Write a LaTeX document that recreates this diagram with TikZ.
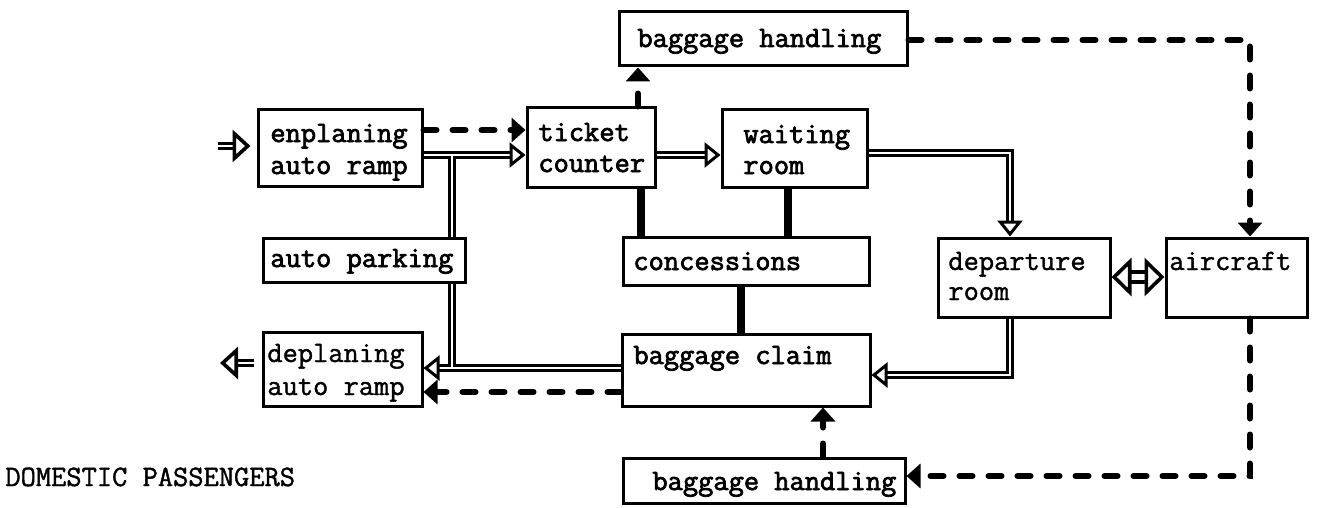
\documentclass[tikz,border=0pt]{standalone}
\usepackage{fontspec}
\newfontfamily\twb{Latin Modern Mono}[FakeBold=2.5]
\newfontfamily\twl{Latin Modern Mono}[FakeBold=1.3]
\usetikzlibrary{arrows.meta,calc}
\newcommand\mkbox[5]{%
  \pgfmathsetmacro\bw{(#4-#2)*0.5}\pgfmathsetmacro\bh{(#5-#3)*0.5}%
  \node[box, minimum width=\bw pt, minimum height=\bh pt] (#1) at ({(#2+#4)/2},{(#3+#5)/2}) {};}
\begin{document}
\begin{tikzpicture}[x=0.5pt,y=-0.5pt,
  box/.style={draw, line width=1.5pt, rectangle, inner sep=0pt},
  txt/.style={font=\fontsize{14.8}{15}\twb, inner sep=0pt, anchor=base west},
  txtl/.style={font=\fontsize{14.8}{15}\twl, inner sep=0pt, anchor=base west},
  dbl/.style={draw, line width=1.2pt, double=white, double distance=1.4pt, line join=miter},
  dblw/.style={draw, line width=2pt, double=white, double distance=3pt},
  htip/.style={-{Triangle[open, fill=white, length=8pt, width=12.5pt, line width=1.5pt]}},
  hbig/.style={-{Triangle[open, fill=white, length=9pt, width=16pt, line width=1.8pt]}},
  hbtip/.style={{Triangle[open, fill=white, length=10pt, width=19pt, line width=1.8pt]}-{Triangle[open, fill=white, length=10pt, width=19pt, line width=1.8pt]}},
  dsh/.style={line width=3pt, dash pattern=on 6.5pt off 8pt, line cap=round},
  dtip/.style={-{Triangle[length=7pt,width=12pt]}},
  thk/.style={line width=4.2pt}]
\useasboundingbox (0,0) rectangle (1322,508);
% boxes
\mkbox{bht}{619}{12}{907}{66}
\mkbox{ep}{258}{110}{422}{186}
\mkbox{tc}{527}{108}{655}{187}
\mkbox{wr}{722}{110}{867}{187}
\mkbox{ap}{263}{238}{465}{282}
\mkbox{con}{623}{237}{869}{285}
\mkbox{dr}{938}{238}{1110}{317}
\mkbox{ac}{1166}{238}{1307}{317}
\mkbox{dp}{263}{332}{422}{406}
\mkbox{bc}{622}{334}{870}{406}
\mkbox{bhb}{623}{458}{905}{503}
% texts
\node[txt] (t-bht) at (637,47) {baggage handling};
\node[txt] (t-ep1) at (270,142) {enplaning};
\node[txt] (t-ep2) at (270,174) {auto ramp};
\node[txt] (t-tc1) at (538,141) {ticket};
\node[txt] (t-tc2) at (538,172) {counter};
\node[txt] (t-wr1) at (743,143) {waiting};
\node[txt] (t-wr2) at (743,174) {room};
\node[txt] (t-ap) at (270,267) {auto parking};
\node[txt] (t-con) at (633,270) {concessions};
\node[txtl] (t-dr1) at (948,270) {departure};
\node[txtl] (t-dr2) at (948,300) {room};
\node[txtl] (t-ac) at (1169,270) {aircraft};
\node[txtl] (t-dp1) at (267,362) {deplaning};
\node[txtl] (t-dp2) at (267,395) {auto ramp};
\node[txt] (t-bc) at (633,364) {baggage claim};
\node[txt] (t-bhb) at (652,490) {baggage handling};
\node[txtl] (t-dom) at (5,486) {DOMESTIC PASSENGERS};
% double (passenger) lines
\coordinate (in) at (218,146);
\coordinate (out) at (220,363);
\draw[dbl,hbig,shorten >=3pt] (in) -- (in -| ep.west);
\draw[dbl,htip] (ep.east |- 0,155) -- (tc.west |- 0,155);
\draw[dbl] (452,158.8) -- (ap.north -| 452,0);
\draw[dbl] (ap.south -| 452,0) -- (452,364.2);
\draw[dbl,htip] (bc.west |- 0,368) -- (dp.east |- 0,368);
\draw[white,line width=1.4pt] (452,154) -- (452,160);
\draw[white,line width=1.4pt] (452,363) -- (452,369);
\draw[dbl,htip] (tc.east |- 0,155) -- (wr.west |- 0,155);
\draw[dbl,htip] (wr.east |- 0,153) -| (dr.north -| 1010,0);
\draw[dbl,htip] (dr.south -| 1010,0) |- (bc.east |- 0,375);
\draw[dblw,hbtip] (dr.east |- 0,277) -- (ac.west |- 0,277);
\draw[dbl,hbig,shorten <=4pt] (out -| dp.west) -- (out);
% dashed (baggage) lines
\draw[dsh,dtip] (ep.east |- 0,130) -- (tc.west |- 0,130);
\draw[dsh,dtip] (tc.north -| 638,0) -- (bht.south -| 638,0);
\draw[dsh,dtip] (bht.east |- 0,40) -| (ac.north -| 1250,0);
\draw[dsh,dtip] (ac.south -| 1250,0) |- (bhb.east |- 0,476);
\draw[dsh,dtip] (bhb.north -| 823,0) -- (bc.south -| 823,0);
\draw[dsh,dtip] (bc.west |- 0,392) -- (dp.east |- 0,392);
% thick links
\draw[thk] (tc.south -| 641,0) -- (con.north -| 641,0);
\draw[thk] (wr.south -| 788,0) -- (con.north -| 788,0);
\draw[thk] (con.south -| 741,0) -- (bc.north -| 741,0);
\end{tikzpicture}
\end{document}
